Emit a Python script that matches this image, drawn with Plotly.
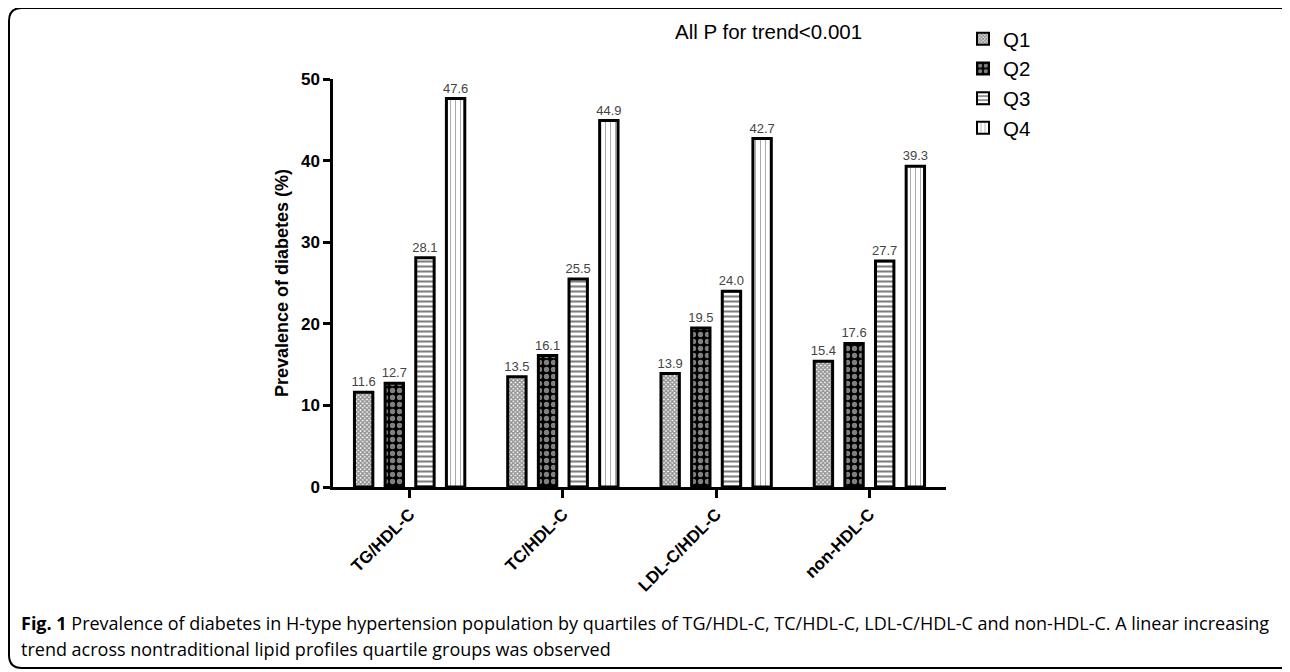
import plotly.graph_objects as go

categories = ["TG/HDL-C", "TC/HDL-C", "LDL-C/HDL-C", "non-HDL-C"]
series_names = ["Q1", "Q2", "Q3", "Q4"]
q1 = [11.6, 13.5, 13.9, 15.4]
q2 = [12.7, 16.1, 19.5, 17.6]
q3 = [28.1, 25.5, 24.0, 27.7]
q4 = [47.6, 44.9, 42.7, 39.3]
y_ticks = [0, 10, 20, 30, 40, 50]
title_text = "All P for trend<0.001"
y_title = "Prevalence of diabetes (%)"
caption1 = ("<b>Fig. 1</b> Prevalence of diabetes in H-type hypertension population by quartiles of "
            "TG/HDL-C, TC/HDL-C, LDL-C/HDL-C and non-HDL-C. A linear increasing")
caption2 = "trend across nontraditional lipid profiles quartile groups was observed"

OFF = 8  # page body margin
W, H = 1290 - OFF, 672 - OFF
# plot area in viewport pixels
VX0, VX1, VY0, VY1 = 333, 946, 79, 487
L, T = VX0 - OFF, VY0 - OFF
R, B = W - (VX1 - OFF), H - (VY1 - OFF)
PW, PH = VX1 - VX0, VY1 - VY0


def px(x):
    return (x - VX0) / PW


def py(y):
    return 1 - (y - VY0) / PH


FONT = "Liberation Sans, Arial, sans-serif"
CAPFONT = "Open Sans, sans-serif"

patterns = [
    dict(shape="x", size=3, solidity=0.7, fgcolor="#222222", bgcolor="white"),
    dict(shape=".", size=7, solidity=0.45, fgcolor="white", bgcolor="black"),
    dict(shape="-", size=5, solidity=0.42, fgcolor="black", bgcolor="white"),
    dict(shape="|", size=5, solidity=0.2, fgcolor="#555555", bgcolor="white"),
]

fig = go.Figure()
for name, vals, pat in zip(series_names, [q1, q2, q3, q4], patterns):
    fig.add_trace(go.Bar(
        x=categories, y=vals, name=name,
        marker=dict(color="white", pattern=pat, line=dict(color="black", width=3)),
        text=[f"{v:.1f}" for v in vals], textposition="outside",
        textfont=dict(family=FONT, size=13, color="#444444"),
        constraintext="none", cliponaxis=False,
    ))

fig.update_layout(
    width=W, height=H,
    margin=dict(l=L, r=R, t=T, b=B, autoexpand=False),
    plot_bgcolor="white", paper_bgcolor="white",
    barmode="group", bargap=0.2, bargroupgap=0.4,
    font=dict(family=FONT, color="black"),
    showlegend=True,
    legend=dict(x=px(963), y=py(19), xanchor="left", yanchor="top",
                font=dict(family=FONT, size=20.5, color="black"),
                bgcolor="rgba(0,0,0,0)", tracegroupgap=0, itemsizing="constant"),
    xaxis=dict(showline=True, linecolor="black", linewidth=2.5, ticks="outside",
               ticklen=8, tickwidth=2.5, tickcolor="black", tickangle=-45,
               tickfont=dict(family=FONT, size=17, color="black", weight="bold"),
               showgrid=False, zeroline=False, range=[-0.5, 3.5], automargin=False),
    yaxis=dict(showline=True, linecolor="black", linewidth=2.5, ticks="outside",
               ticklen=7, tickwidth=2.5, tickcolor="black", range=[0, 50],
               tickvals=y_ticks, tickfont=dict(family=FONT, size=17, color="black", weight="bold"),
               showgrid=False, zeroline=False, automargin=False,
               title=dict(text=y_title, font=dict(family=FONT, size=18, color="black", weight="bold"),
                          standoff=8)),
)

fig.add_annotation(x=px(768), y=py(32), xref="paper", yref="paper", text=title_text,
                   showarrow=False, xanchor="center", yanchor="middle",
                   font=dict(family=FONT, size=20.5, color="black"))
fig.add_annotation(x=px(19), y=py(623), xref="paper", yref="paper", text=caption1,
                   showarrow=False, xanchor="left", yanchor="middle",
                   font=dict(family=CAPFONT, size=18, color="black"))
fig.add_annotation(x=px(19), y=py(649), xref="paper", yref="paper", text=caption2,
                   showarrow=False, xanchor="left", yanchor="middle",
                   font=dict(family=CAPFONT, size=18, color="black"))

# rounded frame (viewport pixels)
x0, x1, y0, y1, r = 9, 1302, 8, 668, 13
path = (f"M {px(x0)},{py(y0 + r)} Q {px(x0)},{py(y0)} {px(x0 + r)},{py(y0)} "
        f"L {px(x1 - r)},{py(y0)} Q {px(x1)},{py(y0)} {px(x1)},{py(y0 + r)} "
        f"L {px(x1)},{py(y1 - r)} Q {px(x1)},{py(y1)} {px(x1 - r)},{py(y1)} "
        f"L {px(x0 + r)},{py(y1)} Q {px(x0)},{py(y1)} {px(x0)},{py(y1 - r)} Z")
fig.add_shape(type="path", path=path, xref="paper", yref="paper",
              line=dict(color="black", width=2), fillcolor="rgba(0,0,0,0)", layer="below")

fig.write_html("out.html")
